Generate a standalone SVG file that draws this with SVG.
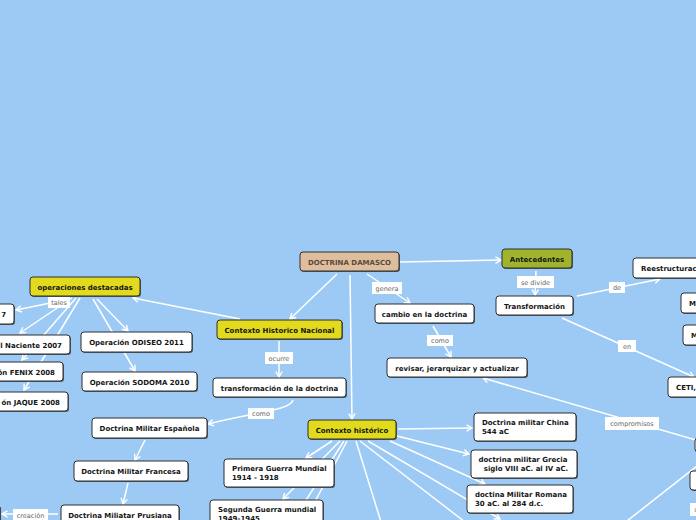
<svg xmlns="http://www.w3.org/2000/svg" width="696" height="520" viewBox="0 0 696 520">
<style>
.bg{fill:#9ccaf5}
.sh{fill:#3a3a3a;opacity:0.75}
.box{stroke:#2e2e2e;stroke-width:1}
.w{fill:#ffffff}
.y{fill:#e2da1c}
.g{fill:#9fb42c}
.t{fill:#dfbe9e}
.tx{font-family:"DejaVu Sans",Verdana,sans-serif;font-weight:bold;font-size:7px;fill:#151515}
.m{text-anchor:middle}
.e{text-anchor:end}
.lr{fill:#ffffff}
.lt{font-family:"DejaVu Sans",Verdana,sans-serif;font-size:6.5px;fill:#666666;text-anchor:middle}
.c{stroke:#ffffff;stroke-width:1.5;fill:none}
</style>
<defs>
<marker id="ar" markerUnits="userSpaceOnUse" markerWidth="8" markerHeight="8" refX="6.5" refY="4" orient="auto">
<path d="M1,0.8 L6.5,4 L1,7.2" fill="none" stroke="#ffffff" stroke-width="1.4"/>
</marker>
</defs>
<rect class="bg" x="0" y="0" width="696" height="520"/>
<g id="connectors">
<path class="c" marker-end="url(#ar)" d="M400,262 L501,260"/>
<path class="c" marker-end="url(#ar)" d="M337,274 L290,319"/>
<path class="c" marker-end="url(#ar)" d="M350,275 L352,419"/>
<path class="c" marker-end="url(#ar)" d="M367,274 L410,303"/>
<path class="c" marker-end="url(#ar)" d="M433,326 L451,357"/>
<path class="c" marker-end="url(#ar)" d="M536,271 L535,295"/>
<path class="c" marker-end="url(#ar)" d="M577,296 L660,279"/>
<path class="c" marker-end="url(#ar)" d="M562,318 L694,377"/>
<path class="c" marker-end="url(#ar)" d="M696,440 L483,378"/>
<path class="c" d="M697,466 L627,521"/>
<path class="c" marker-end="url(#ar)" d="M240,319 L133,298"/>
<path class="c" marker-end="url(#ar)" d="M279,341 L279,377"/>
<path class="c" marker-end="url(#ar)" d="M293,400 C290,410 262,411 208,424"/>
<path class="c" marker-end="url(#ar)" d="M145,440 L135,460"/>
<path class="c" marker-end="url(#ar)" d="M128,483 L123,504"/>
<path class="c" marker-end="url(#ar)" d="M58,514 L2,514"/>
<path class="c" marker-end="url(#ar)" d="M70,299 L16,310"/>
<path class="c" marker-end="url(#ar)" d="M72,298 L20,333"/>
<path class="c" marker-end="url(#ar)" d="M76,298 L22,360"/>
<path class="c" marker-end="url(#ar)" d="M80,298 L24,390"/>
<path class="c" marker-end="url(#ar)" d="M97,299 L128,331"/>
<path class="c" marker-end="url(#ar)" d="M93,299 L135,371"/>
<path class="c" marker-end="url(#ar)" d="M398,429 L472,428"/>
<path class="c" marker-end="url(#ar)" d="M397,436 L469,454"/>
<path class="c" marker-end="url(#ar)" d="M390,441 L485,484"/>
<path class="c" marker-end="url(#ar)" d="M368,441 L500,519"/>
<path class="c" d="M360,441 L465,522"/>
<path class="c" d="M356,441 L381,522"/>
<path class="c" marker-end="url(#ar)" d="M332,441 L306,458"/>
<path class="c" marker-end="url(#ar)" d="M340,441 L283,499"/>
<path class="c" d="M344,441 L290,525"/>
<path class="c" d="M347,441 L300,530"/>
</g>
<g id="labels">
<rect class="lr" x="48" y="297" width="22" height="11"/><text class="lt" x="59" y="305">tales</text>
<rect class="lr" x="265" y="352" width="28" height="12"/><text class="lt" x="279" y="360.5">ocurre</text>
<rect class="lr" x="248" y="408" width="26" height="11"/><text class="lt" x="261" y="416">como</text>
<rect class="lr" x="372" y="282" width="30" height="12"/><text class="lt" x="387" y="290.5">genera</text>
<rect class="lr" x="427" y="335" width="26" height="11"/><text class="lt" x="440" y="343">como</text>
<rect class="lr" x="517" y="276" width="37" height="12"/><text class="lt" x="535.5" y="284.5">se divide</text>
<rect class="lr" x="609" y="282" width="16" height="11"/><text class="lt" x="617" y="290">de</text>
<rect class="lr" x="618" y="340" width="18" height="12"/><text class="lt" x="627" y="348.5">en</text>
<rect class="lr" x="605" y="417" width="54" height="13"/><text class="lt" x="632" y="426">compromisos</text>
<rect class="lr" x="13" y="509" width="35" height="12"/><text class="lt" x="30.5" y="517.5">creación</text>
<rect class="lr" x="690" y="503" width="12" height="13"/><text class="lt" x="696" y="512">s</text>
</g>
<g id="n-damasco"><rect class="sh" x="301" y="253" width="99" height="19" rx="3"/><rect class="box t" x="300" y="252" width="99" height="19" rx="3"/><text class="tx m" x="349.5" y="264.5" style="fill:#5a4a3c">DOCTRINA DAMASCO</text></g>
<g id="n-antecedentes"><rect class="sh" x="503" y="250" width="70" height="19" rx="3"/><rect class="box g" x="502" y="249" width="70" height="19" rx="3"/><text class="tx m" x="537" y="261.5">Antecedentes</text></g>
<g id="n-transformacion"><rect class="sh" x="497" y="297" width="77" height="19" rx="3"/><rect class="box w" x="496" y="296" width="77" height="19" rx="3"/><text class="tx m" x="534.5" y="308.5">Transformación</text></g>
<g id="n-cambio"><rect class="sh" x="376" y="305" width="99" height="19" rx="3"/><rect class="box w" x="375" y="304" width="99" height="19" rx="3"/><text class="tx m" x="424.5" y="316.5">cambio en la doctrina</text></g>
<g id="n-revisar"><rect class="sh" x="388" y="359" width="140" height="19" rx="3"/><rect class="box w" x="387" y="358" width="140" height="19" rx="3"/><text class="tx m" x="457" y="370.5">revisar, jerarquizar y actualizar</text></g>
<g id="n-reestructuracion"><rect class="sh" x="634" y="259" width="90" height="20" rx="3"/><rect class="box w" x="633" y="258" width="90" height="20" rx="3"/><text class="tx" x="641" y="271">Reestructuración</text></g>
<g id="n-m1"><rect class="sh" x="682" y="294" width="40" height="20" rx="3"/><rect class="box w" x="681" y="293" width="40" height="20" rx="3"/><text class="tx" x="689" y="306">M</text></g>
<g id="n-m2"><rect class="sh" x="684" y="326" width="40" height="20" rx="3"/><rect class="box w" x="683" y="325" width="40" height="20" rx="3"/><text class="tx" x="691" y="338">M</text></g>
<g id="n-ceti"><rect class="sh" x="669" y="378" width="60" height="20" rx="3"/><rect class="box w" x="668" y="377" width="60" height="20" rx="3"/><text class="tx" x="676" y="390">CETI,</text></g>
<g id="n-right1"><rect class="sh" x="696" y="439" width="30" height="14" rx="3"/><rect class="box w" x="695" y="438" width="30" height="14" rx="3"/></g>
<g id="n-right2"><rect class="sh" x="691" y="472" width="30" height="19" rx="3"/><rect class="box w" x="690" y="471" width="30" height="19" rx="3"/></g>
<g id="n-chn"><rect class="sh" x="218" y="321" width="125" height="19" rx="3"/><rect class="box y" x="217" y="320" width="125" height="19" rx="3"/><text class="tx m" x="279.5" y="332.5">Contexto Historico Nacional</text></g>
<g id="n-transdoc"><rect class="sh" x="214" y="379" width="133" height="19" rx="3"/><rect class="box w" x="213" y="378" width="133" height="19" rx="3"/><text class="tx m" x="279.5" y="390.5">transformación de la doctrina</text></g>
<g id="n-ctxhist"><rect class="sh" x="309" y="421" width="88" height="19" rx="3"/><rect class="box y" x="308" y="420" width="88" height="19" rx="3"/><text class="tx m" x="352" y="432.5">Contexto histórico</text></g>
<g id="n-china"><rect class="sh" x="475" y="414" width="102" height="28" rx="3"/><rect class="box w" x="474" y="413" width="102" height="28" rx="3"/><text class="tx" x="482" y="425">Doctrina militar China</text><text class="tx" x="482" y="434">544 aC</text></g>
<g id="n-grecia"><rect class="sh" x="472" y="451" width="106" height="28" rx="3"/><rect class="box w" x="471" y="450" width="106" height="28" rx="3"/><text class="tx m" x="523" y="462">doctrina militar Grecia</text><text class="tx m" x="526" y="471">siglo VIII aC. al IV aC.</text></g>
<g id="n-romana"><rect class="sh" x="468" y="486" width="106" height="28" rx="3"/><rect class="box w" x="467" y="485" width="106" height="28" rx="3"/><text class="tx" x="475" y="497">doctina Militar Romana</text><text class="tx" x="475" y="506">30 aC. al 284 d.c.</text></g>
<g id="n-primera"><rect class="sh" x="225" y="460" width="110" height="28" rx="3"/><rect class="box w" x="224" y="459" width="110" height="28" rx="3"/><text class="tx" x="232" y="471">Primera Guerra Mundial</text><text class="tx" x="232" y="480">1914 - 1918</text></g>
<g id="n-segunda"><rect class="sh" x="211" y="501" width="113" height="30" rx="3"/><rect class="box w" x="210" y="500" width="113" height="30" rx="3"/><text class="tx" x="218" y="512">Segunda Guerra mundial</text><text class="tx" x="218" y="521">1949-1945</text></g>
<g id="n-ops"><rect class="sh" x="31" y="278" width="110" height="19" rx="3"/><rect class="box y" x="30" y="277" width="110" height="19" rx="3"/><text class="tx m" x="85" y="289.5">operaciones destacadas</text></g>
<g id="n-op7"><rect class="sh" x="-39" y="305" width="54" height="20" rx="3"/><rect class="box w" x="-40" y="304" width="54" height="20" rx="3"/><text class="tx e" x="6" y="317">7</text></g>
<g id="n-sol"><rect class="sh" x="-39" y="336" width="110" height="19" rx="3"/><rect class="box w" x="-40" y="335" width="110" height="19" rx="3"/><text class="tx e" x="62" y="347.5">l Naciente 2007</text></g>
<g id="n-fenix"><rect class="sh" x="-39" y="363" width="103" height="19" rx="3"/><rect class="box w" x="-40" y="362" width="103" height="19" rx="3"/><text class="tx e" x="55" y="374.5">ón FENIX 2008</text></g>
<g id="n-jaque"><rect class="sh" x="-39" y="393" width="108" height="19" rx="3"/><rect class="box w" x="-40" y="392" width="108" height="19" rx="3"/><text class="tx e" x="60" y="404.5">ón JAQUE 2008</text></g>
<g id="n-odiseo"><rect class="sh" x="82" y="333" width="111" height="20" rx="3"/><rect class="box w" x="81" y="332" width="111" height="20" rx="3"/><text class="tx m" x="136.5" y="344.5">Operación ODISEO 2011</text></g>
<g id="n-sodoma"><rect class="sh" x="83" y="373" width="115" height="19" rx="3"/><rect class="box w" x="82" y="372" width="115" height="19" rx="3"/><text class="tx m" x="139.5" y="384.5">Operación SODOMA 2010</text></g>
<g id="n-espanola"><rect class="sh" x="93" y="419" width="115" height="20" rx="3"/><rect class="box w" x="92" y="418" width="115" height="20" rx="3"/><text class="tx m" x="149.5" y="430.5">Doctrina Militar Española</text></g>
<g id="n-francesa"><rect class="sh" x="75" y="462" width="114" height="20" rx="3"/><rect class="box w" x="74" y="461" width="114" height="20" rx="3"/><text class="tx m" x="131" y="473.5">Doctrina Militar Francesa</text></g>
<g id="n-prusiana"><rect class="sh" x="62" y="506" width="118" height="20" rx="3"/><rect class="box w" x="61" y="505" width="118" height="20" rx="3"/><text class="tx m" x="120" y="517.5">Doctrina Miliatar Prusiana</text></g>
<g id="n-left"><rect class="sh" x="-29" y="506" width="30" height="20" rx="3"/><rect class="box w" x="-30" y="505" width="30" height="20" rx="3"/></g>
</svg>
